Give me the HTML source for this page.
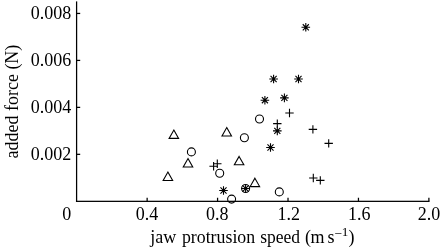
<!DOCTYPE html>
<html><head><meta charset="utf-8"><style>
html,body{margin:0;padding:0;background:#fff;width:442px;height:248px;overflow:hidden}
svg{display:block}
text{font-family:"Liberation Serif","Times New Roman",serif;font-size:18px;fill:#000}
</style></head><body>
<svg width="442" height="248" viewBox="0 0 442 248">
<g fill="#000">
<rect x="75.97" y="1.4" width="1.25" height="200.57"/>
<rect x="75.97" y="200.72" width="353.52" height="1.25"/>
<rect x="76.6" y="153.71" width="3.6" height="1.25"/>
<rect x="76.6" y="106.75" width="3.6" height="1.25"/>
<rect x="76.6" y="59.79" width="3.6" height="1.25"/>
<rect x="76.6" y="12.82" width="3.6" height="1.25"/>
<rect x="146.51" y="197.75" width="1.25" height="3.6"/>
<rect x="216.95" y="197.75" width="1.25" height="3.6"/>
<rect x="287.39" y="197.75" width="1.25" height="3.6"/>
<rect x="357.83" y="197.75" width="1.25" height="3.6"/>
<rect x="428.27" y="197.75" width="1.25" height="3.6"/>
</g>
<g fill="none" stroke="#000" stroke-width="1.1">
<circle cx="259.5" cy="119" r="4.0"/>
<circle cx="244.4" cy="137.75" r="4.0"/>
<circle cx="191.4" cy="151.9" r="4.0"/>
<circle cx="219.7" cy="173.25" r="4.0"/>
<circle cx="245.6" cy="188.5" r="4.0"/>
<circle cx="279.3" cy="191.9" r="4.0"/>
<circle cx="231.6" cy="199.1" r="4.0"/>
<path d="M173.85 130L178.6 138.4H169.1Z"/>
<path d="M226.75 127.6L231.5 136H222Z"/>
<path d="M188 158.6L192.75 167H183.25Z"/>
<path d="M239.1 156.4L243.85 164.8H234.35Z"/>
<path d="M254.9 178.2L259.65 186.6H250.15Z"/>
<path d="M167.9 172.1L172.65 180.5H163.15Z"/>
<path d="M285.3 113H293.7M289.5 108.8V117.2"/>
<path d="M273.1 123.6H281.5M277.3 119.4V127.8"/>
<path d="M308.7 129.4H317.1M312.9 125.2V133.6"/>
<path d="M324.5 143.4H332.9M328.7 139.2V147.6"/>
<path d="M309.1 178H317.5M313.3 173.8V182.2"/>
<path d="M316.1 180.4H324.5M320.3 176.2V184.6"/>
<path d="M209.4 166.2H217.8M213.6 162V170.4"/>
<path d="M213.1 163.8H221.5M217.3 159.6V168"/>
<path d="M301.5 27.3H310.1M305.8 23V31.6M302.76 24.26L308.84 30.34M302.76 30.34L308.84 24.26"/>
<path d="M269.3 79H277.9M273.6 74.7V83.3M270.56 75.96L276.64 82.04M270.56 82.04L276.64 75.96"/>
<path d="M294.2 79H302.8M298.5 74.7V83.3M295.46 75.96L301.54 82.04M295.46 82.04L301.54 75.96"/>
<path d="M260.6 100.2H269.2M264.9 95.9V104.5M261.86 97.16L267.94 103.24M261.86 103.24L267.94 97.16"/>
<path d="M280.1 97.9H288.7M284.4 93.6V102.2M281.36 94.86L287.44 100.94M281.36 100.94L287.44 94.86"/>
<path d="M273 130.9H281.6M277.3 126.6V135.2M274.26 127.86L280.34 133.94M274.26 133.94L280.34 127.86"/>
<path d="M266.2 147.5H274.8M270.5 143.2V151.8M267.46 144.46L273.54 150.54M267.46 150.54L273.54 144.46"/>
<path d="M219.2 190.5H227.8M223.5 186.2V194.8M220.46 187.46L226.54 193.54M220.46 193.54L226.54 187.46"/>
<path d="M241.3 188.5H249.9M245.6 184.2V192.8M242.56 185.46L248.64 191.54M242.56 191.54L248.64 185.46"/>
</g>
<g>
<text x="71.2" y="159.84" text-anchor="end">0.002</text>
<text x="71.2" y="112.88" text-anchor="end">0.004</text>
<text x="71.2" y="65.91" text-anchor="end">0.006</text>
<text x="71.2" y="18.95" text-anchor="end">0.008</text>
<text x="147.1" y="220" text-anchor="middle">0.4</text>
<text x="217.3" y="220" text-anchor="middle">0.8</text>
<text x="288.65" y="220" text-anchor="middle">1.2</text>
<text x="359.2" y="220" text-anchor="middle">1.6</text>
<text x="428.95" y="220" text-anchor="middle">2.0</text>
<text x="66.8" y="220" text-anchor="middle">0</text>
<text y="242.6"><tspan x="150.3">jaw</tspan><tspan x="181.95" textLength="73.2" lengthAdjust="spacingAndGlyphs">protrusion</tspan><tspan x="260.15" textLength="39.85" lengthAdjust="spacingAndGlyphs">speed</tspan><tspan x="305.0">(</tspan><tspan x="310.6">m</tspan><tspan x="327.6">s</tspan><tspan x="334.4" y="237.9" font-size="13.5">−</tspan><tspan x="341.8" y="236.3" font-size="13.3">1</tspan><tspan x="348.5" y="242.6">)</tspan></text>
<text transform="translate(17.9 101.6) rotate(-90)" text-anchor="middle">added force (N)</text>
</g>
</svg>
</body></html>
